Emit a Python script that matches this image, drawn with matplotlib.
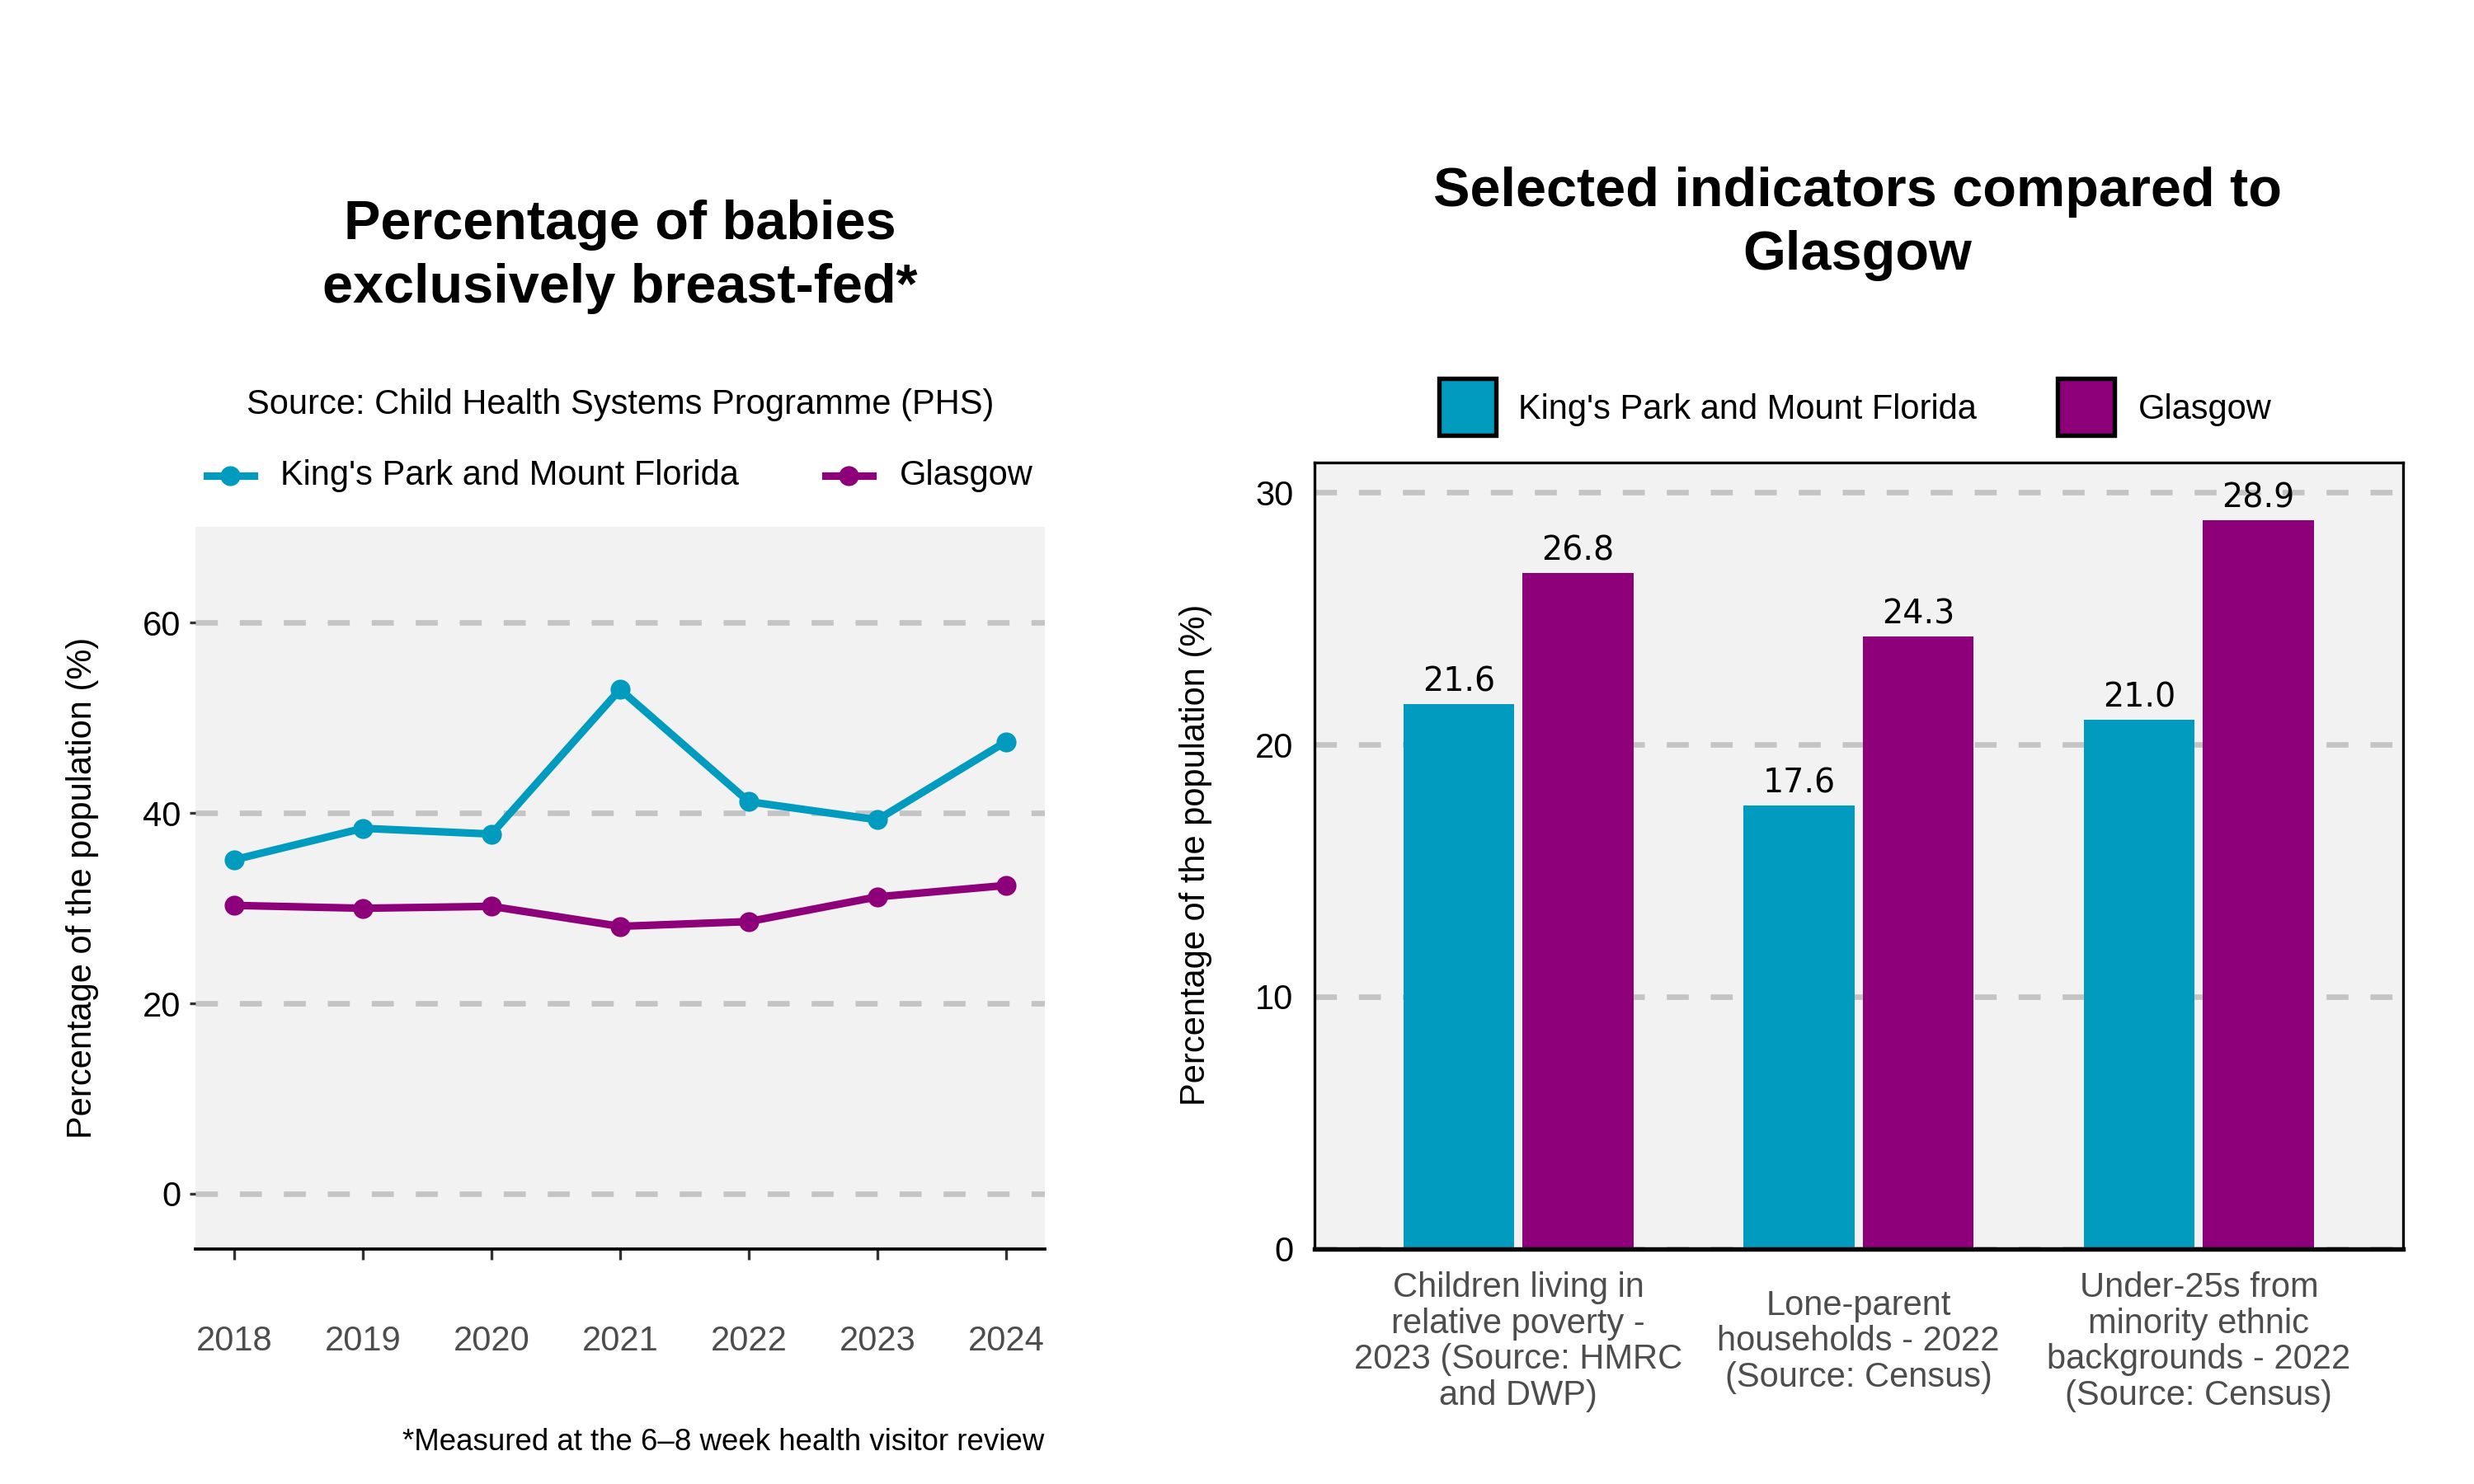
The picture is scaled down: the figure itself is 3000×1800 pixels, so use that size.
import matplotlib
matplotlib.use("Agg")
import matplotlib.pyplot as plt
from matplotlib.lines import Line2D
from matplotlib.patches import Rectangle
import numpy as np

plt.rcParams['font.family'] = ['Liberation Sans', 'DejaVu Sans']

# ---------------- data ----------------
years = [2018, 2019, 2020, 2021, 2022, 2023, 2024]
kp_breastfed = [35.1, 38.4, 37.8, 53.0, 41.2, 39.3, 47.5]
gl_breastfed = [30.3, 30.0, 30.2, 28.1, 28.6, 31.2, 32.4]

indicators = [
    "Children living in\nrelative poverty -\n2023 (Source: HMRC\nand DWP)",
    "Lone-parent\nhouseholds - 2022\n(Source: Census)",
    "Under-25s from\nminority ethnic\nbackgrounds - 2022\n(Source: Census)",
]
kp_values = [21.6, 17.6, 21.0]
gl_values = [26.8, 24.3, 28.9]

series_names = ["King's Park and Mount Florida", "Glasgow"]
left_yticks = [0, 20, 40, 60]
right_yticks = [0, 10, 20, 30]

# ---------------- style ----------------
TEAL = '#009BBE'
PURPLE = '#8E007A'
PANEL = '#F2F2F2'
GRID = '#C4C4C4'
GRID_LS = (0, (4, 4))
GRID_LW = 1.6

fig = plt.figure(figsize=(10, 6), dpi=300)

# ---------------- left panel ----------------
axL = fig.add_axes([0.0791, 0.1584, 0.3431, 0.4867])
axL.set_facecolor(PANEL)
axL.plot(years, kp_breastfed, color=TEAL, lw=2.2, marker='o', ms=4.8, zorder=3)
axL.plot(years, gl_breastfed, color=PURPLE, lw=2.2, marker='o', ms=4.8, zorder=3)
axL.set_xlim(2017.7, 2024.3)
axL.set_ylim(-5.8, 70.1)
axL.set_yticks(left_yticks)
axL.set_xticks(years)
axL.yaxis.grid(True, color=GRID, lw=GRID_LW, ls=GRID_LS)
axL.set_axisbelow(True)
for s in ['left', 'right', 'top']:
    axL.spines[s].set_visible(False)
axL.spines['bottom'].set_color('black')
axL.spines['bottom'].set_linewidth(0.9)
axL.tick_params(axis='y', length=1.8, width=0.8, color='#333333', pad=2.5,
                labelsize=10, labelcolor='black')
axL.tick_params(axis='x', length=3, width=0.8, color='#333333', pad=19,
                labelsize=10, labelcolor='#4D4D4D')

fig.text(0.2506, 0.8268, "Percentage of babies\nexclusively breast-fed*",
         ha='center', va='center', fontsize=16, fontweight='bold',
         linespacing=1.32)
fig.text(0.2506, 0.727, "Source: Child Health Systems Programme (PHS)",
         ha='center', va='center', fontsize=10)
fig.text(0.0332, 0.4017, "Percentage of the population (%)", rotation=90,
         ha='center', va='center', fontsize=10)
fig.text(0.4222, 0.0278, "*Measured at the 6\u20138 week health visitor review",
         ha='right', va='center', fontsize=8.8)

# left legend
LEG_Y = 0.6792
for xc, xt, col, name in [(0.0931, 0.1135, TEAL, series_names[0]),
                          (0.3431, 0.3635, PURPLE, series_names[1])]:
    fig.add_artist(Line2D([xc - 0.0095, xc + 0.0095], [LEG_Y, LEG_Y],
                          color=col, lw=2.2, transform=fig.transFigure))
    fig.add_artist(Line2D([xc], [LEG_Y], color=col, marker='o', ms=4.8,
                          transform=fig.transFigure))
    fig.text(xt, LEG_Y, name, ha='left', va='center', fontsize=10)

# ---------------- right panel ----------------
axR = fig.add_axes([0.5312, 0.1584, 0.4401, 0.5302])
axR.set_facecolor(PANEL)
x = np.arange(len(indicators))
bw = 0.326
off = 0.175
b1 = axR.bar(x - off, kp_values, width=bw, color=TEAL, zorder=3)
b2 = axR.bar(x + off, gl_values, width=bw, color=PURPLE, zorder=3)
axR.bar_label(b1, fmt='%.1f', padding=1.5, fontsize=9.5,
              family='DejaVu Sans', color='black')
axR.bar_label(b2, fmt='%.1f', padding=1.5, fontsize=9.5,
              family='DejaVu Sans', color='black')
axR.set_xlim(-0.6, 2.6)
axR.set_ylim(0, 31.2)
axR.set_yticks(right_yticks)
axR.set_xticks(x)
axR.set_xticklabels(indicators, linespacing=1.12)
for lab in axR.get_xticklabels():
    lab.set_va('center')
axR.yaxis.grid(True, color=GRID, lw=GRID_LW, ls=GRID_LS)
axR.set_axisbelow(True)
for s in ['left', 'right', 'top']:
    axR.spines[s].set_color('black')
    axR.spines[s].set_linewidth(0.8)
axR.spines['bottom'].set_color('black')
axR.spines['bottom'].set_linewidth(1.3)
axR.spines['bottom'].set_zorder(4)
axR.tick_params(axis='y', length=0, pad=6, labelsize=10, labelcolor='black')
axR.tick_params(axis='x', length=0, pad=27, labelsize=10, labelcolor='#4D4D4D')

fig.text(0.7507, 0.8492, "Selected indicators compared to\nGlasgow",
         ha='center', va='center', fontsize=16, fontweight='bold',
         linespacing=1.32)
fig.text(0.4834, 0.424, "Percentage of the population (%)", rotation=90,
         ha='center', va='center', fontsize=10)

# right legend
sq_w = 0.0230
sq_h = sq_w * 3000 / 1800
RLEG_Y = 0.7258
for xc, xt, col, name in [(0.5931, 0.6135, TEAL, series_names[0]),
                          (0.8431, 0.8642, PURPLE, series_names[1])]:
    fig.add_artist(Rectangle((xc - sq_w / 2, RLEG_Y - sq_h / 2), sq_w, sq_h,
                             facecolor=col, edgecolor='black', lw=1.3,
                             transform=fig.transFigure))
    fig.text(xt, RLEG_Y - 0.002, name, ha='left', va='center', fontsize=10)

fig.savefig('out.png', dpi=300, facecolor='white')
